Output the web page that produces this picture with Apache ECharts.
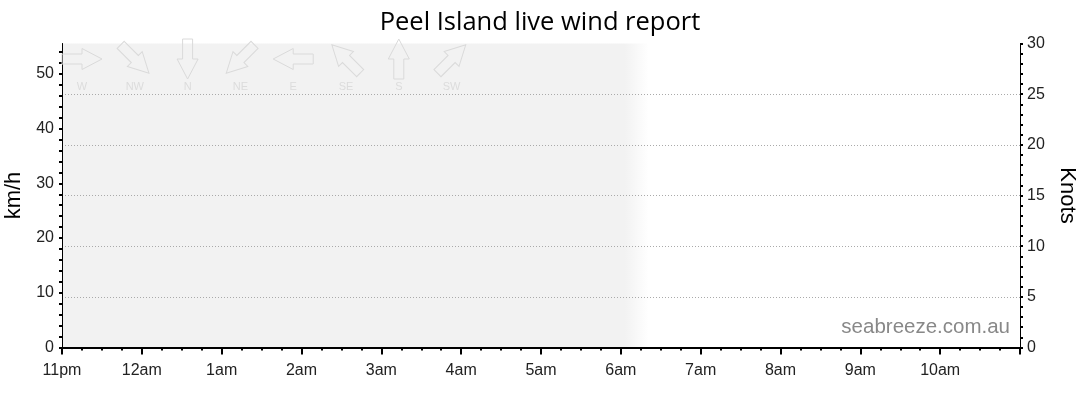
<!DOCTYPE html>
<html>
<head>
<meta charset="utf-8">
<script src="https://cdn.jsdelivr.net/npm/echarts@6/dist/echarts.min.js"></script>
<style>html,body{margin:0;padding:0;background:#fff}#c{width:1080px;height:414px}</style>
</head>
<body>
<div id="c"></div>
<script>
// Data
const titleText = 'Peel Island live wind report';
const xTickLabels = ['11pm','12am','1am','2am','3am','4am','5am','6am','7am','8am','9am','10am'];
const xHours = [0, 12];               // hours after 11pm shown on the axis
const kmhMax = 55.56;                 // 30 knots expressed in km/h
const knotsMax = 30;
const shadeHours = [0, 7.05, 7.35];   // shaded (night) period: start, fade start, end
const dirLabels = ['W','NW','N','NE','E','SE','S','SW'];
const windSeries = [];                // no wind observations in the window

const chart = echarts.init(document.getElementById('c'), null, {renderer: 'canvas'});

const arrowPoints = [[-20,-5],[0,-5],[0,-10.5],[20,0],[0,10.5],[0,5],[-20,5]];
const keyGraphics = [];
dirLabels.forEach((d, i) => {
  const cx = 82 + i * 52.8;
  keyGraphics.push({
    type: 'polygon', x: cx, y: 59, rotation: -i * Math.PI / 4, silent: true, z: 10,
    shape: {points: arrowPoints},
    style: {fill: 'rgba(0,0,0,0)', stroke: '#dadada', lineWidth: 1}
  });
  keyGraphics.push({
    type: 'text', x: cx, y: 87, silent: true, z: 10,
    style: {text: d, fill: '#dcdcdc', font: '11px "Liberation Sans", Arial, sans-serif', textAlign: 'center', textVerticalAlign: 'middle', align: 'center', verticalAlign: 'middle'}
  });
});
keyGraphics.push({
  type: 'text', right: 70, top: 317, silent: true, z: 10,
  style: {text: 'seabreeze.com.au', fill: '#888', font: '20.5px "Liberation Sans", Arial, sans-serif'}
});

const fadeStop = (shadeHours[1] - shadeHours[0]) / (shadeHours[2] - shadeHours[0]);

const labelFont = {fontFamily: '"Liberation Sans", Arial, sans-serif', fontSize: 16, color: '#222'};
const nameFont = {fontFamily: '"Liberation Sans", Arial, sans-serif', fontSize: 22, color: '#000'};

chart.setOption({
  animation: false,
  title: {text: titleText, left: 'center', top: 5,
    textStyle: {fontFamily: '"Open Sans", sans-serif', fontSize: 25.5, fontWeight: 'normal', color: '#000'}},
  grid: {left: 62, right: 60, top: 43.5, bottom: 66.5, containLabel: false, outerBoundsMode: 'none'},
  xAxis: {
    type: 'value', min: xHours[0], max: xHours[1], interval: 1, z: 5,
    axisLine: {lineStyle: {color: '#000', width: 2}},
    axisTick: {show: true, length: 7, lineStyle: {color: '#000', width: 2}},
    minorTick: {show: true, splitNumber: 4, length: 3, lineStyle: {color: '#000', width: 2}},
    splitLine: {show: false},
    axisLabel: Object.assign({margin: 15, formatter: v => xTickLabels[Math.round(v)] || ''}, labelFont)
  },
  yAxis: [
    {
      type: 'value', min: 0, max: kmhMax, interval: 2, position: 'left', z: 5,
      name: 'km/h', nameLocation: 'middle', nameGap: 36, nameRotate: 90,
      nameTextStyle: nameFont,
      axisLine: {show: true, lineStyle: {color: '#000', width: 1}},
      axisTick: {show: true, length: 3, lineStyle: {color: '#000', width: 2}},
      splitLine: {show: false},
      axisLabel: Object.assign({margin: 8, showMaxLabel: false,
        formatter: v => (Math.abs(v % 10) < 1e-6 ? String(v) : '')}, labelFont)
    },
    {
      type: 'value', min: 0, max: knotsMax, interval: 5, position: 'right', z: 5,
      name: 'Knots', nameLocation: 'middle', nameGap: 36, nameRotate: -90,
      nameTextStyle: nameFont,
      axisLine: {show: true, lineStyle: {color: '#000', width: 1}},
      axisTick: {show: true, length: 3, lineStyle: {color: '#000', width: 2}},
      minorTick: {show: true, splitNumber: 5, length: 3, lineStyle: {color: '#000', width: 2}},
      splitLine: {show: true, showMinLine: false, showMaxLine: false,
        lineStyle: {color: '#aaa', type: [1, 2], width: 1}},
      axisLabel: Object.assign({margin: 7}, labelFont)
    }
  ],
  graphic: keyGraphics,
  series: [{
    type: 'line', name: 'wind', data: windSeries, xAxisIndex: 0, yAxisIndex: 0, z: 1,
    markArea: {
      silent: true,
      itemStyle: {color: new echarts.graphic.LinearGradient(0, 0, 1, 0, [
        {offset: 0, color: '#f2f2f2'}, {offset: fadeStop, color: '#f2f2f2'}, {offset: 1, color: '#ffffff'}])},
      data: [[{xAxis: shadeHours[0]}, {xAxis: shadeHours[2]}]]
    }
  }]
});
</script>
</body>
</html>
